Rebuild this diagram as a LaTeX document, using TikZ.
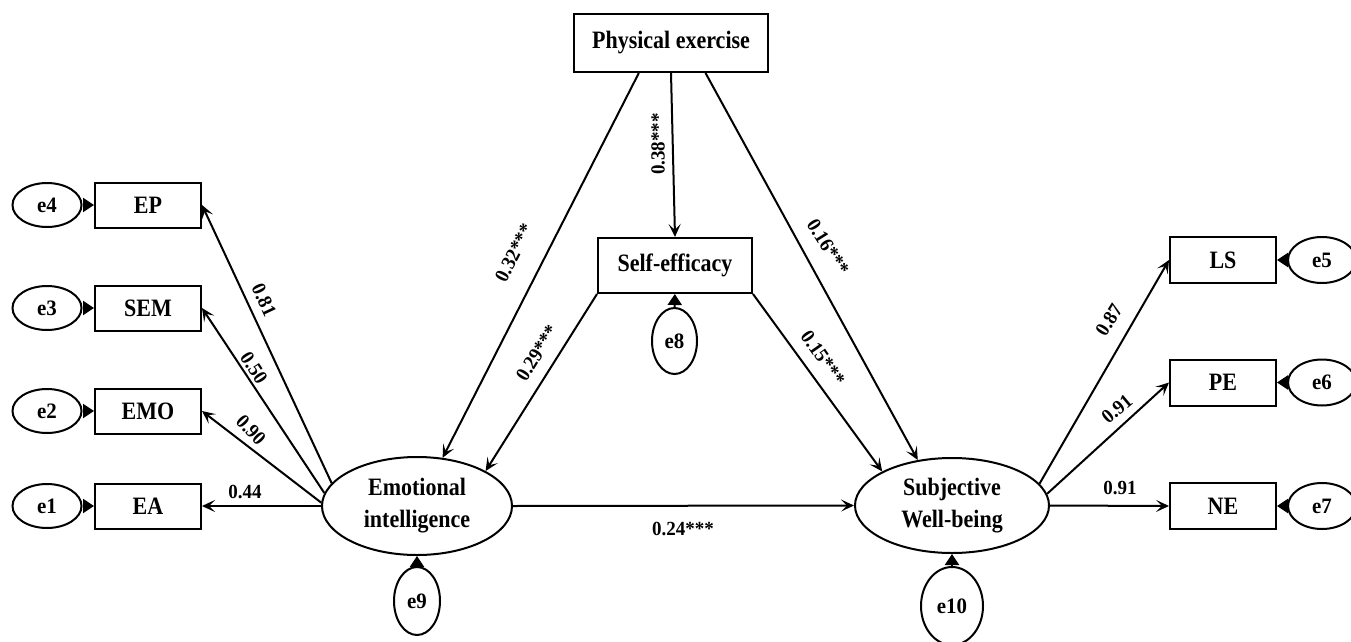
\documentclass[tikz,border=0pt]{standalone}
\usepackage{fontspec}
\setmainfont{Liberation Serif}
\newfontfamily\nodefont{Liberation Serif}[FakeStretch=0.88]
\newfontfamily\lblfont{Liberation Serif}[FakeStretch=0.95]
\usetikzlibrary{arrows.meta,shapes.geometric}
\tikzset{
  box/.style={draw,line width=2pt,rectangle,inner sep=0pt,font=\nodefont\fontsize{25}{30}\selectfont\bfseries},
  latent/.style={draw,line width=2pt,ellipse,inner sep=0pt,align=center,font=\nodefont\fontsize{25}{32}\selectfont\bfseries},
  err/.style={draw,line width=2pt,ellipse,inner sep=0pt,font=\lblfont\fontsize{22}{26}\selectfont\bfseries},
  path/.style={line width=2pt,-{Stealth[length=13pt,width=12pt,inset=6pt]}},
  errpath/.style={line width=2pt,-{Triangle[length=11pt,width=14pt]}},
  lbl/.style={inner sep=0pt,font=\lblfont\fontsize{20}{24}\selectfont\bfseries},
}
\begin{document}
\begin{tikzpicture}[x=1pt,y=-1pt]
\useasboundingbox (0,0) rectangle (1351,642);
% main nodes
\node[box,minimum width=194pt,minimum height=58pt] (PEX) at (671,43) {Physical exercise};
\node[box,minimum width=154pt,minimum height=55pt] (SE) at (675,265.5) {Self-efficacy};
\node[err,minimum width=45pt,minimum height=66pt] (e8) at (674.5,341) {e8};
\node[latent,minimum width=190pt,minimum height=98pt] (EI) at (417,506) {Emotional\\intelligence};
\node[err,minimum width=46pt,minimum height=68pt] (e9) at (417,601) {e9};
\node[latent,minimum width=194pt,minimum height=95pt] (SWB) at (952,505.5) {Subjective\\Well-being};
\node[err,minimum width=62pt,minimum height=78pt] (e10) at (952,606) {e10};
% left indicators
\foreach \n/\t/\e/\y in {EP/EP/e4/205,SEM/SEM/e3/308,EMO/EMO/e2/411,EA/EA/e1/506}{
  \node[box,minimum width=106pt,minimum height=45pt] (\n) at (148,\y) {\t};
  \node[err,minimum width=69pt,minimum height=44pt] (\e) at (47,\y) {\e};
  \draw[errpath] (\e) -- (\n);
}
% right indicators
\foreach \n/\t/\e/\y in {LS/LS/e5/260,PE/PE/e6/382.5,NE/NE/e7/506}{
  \node[box,minimum width=106pt,minimum height=46pt] (\n) at (1223,\y) {\t};
  \node[err,minimum width=68pt,minimum height=46pt] (\e) at (1322,\y) {\e};
  \draw[errpath] (\e) -- (\n);
}
% error arrows to latent
\draw[errpath] (e8) -- (SE);
\draw[errpath] (e9) -- (EI);
\draw[errpath] (e10) -- (SWB);
% structural paths
\draw[path] (PEX.223) -- (EI.62);
\draw[path] (PEX.south) -- (SE.north);
\draw[path] (PEX.319.5) -- (SWB.127);
\draw[path] (SE.south west) -- (EI.27);
\draw[path] (SE.south east) -- (SWB.154);
\draw[path] (EI.east) -- (SWB.west);
% loadings
\draw[path] (EI.165) -- (EP.east);
\draw[path] (EI.172) -- (SEM.east);
\draw[path] (EI.178) -- (EMO.east);
\draw[path] (EI.west) -- (EA.east);
\draw[path] (SWB.14.7) -- (LS.west);
\draw[path] (SWB.7.5) -- (PE.west);
\draw[path] (SWB.east) -- (NE.west);
% labels
\node[lbl,rotate=-65] (l81) at (264,300) {0.81};
\node[lbl,rotate=-57] (l50) at (254,368) {0.50};
\node[lbl,rotate=-47] (l90) at (251,430) {0.90};
\node[lbl] (l44) at (245,492) {0.44};
\node[lbl,rotate=63] (l32) at (514,253) {0.32***};
\node[lbl,rotate=90] (l38) at (658,144) {0.38***};
\node[lbl,rotate=-58] (l16) at (828,247) {0.16***};
\node[lbl,rotate=58] (l29) at (537,353) {0.29***};
\node[lbl,rotate=-55] (l15) at (823,358) {0.15***};
\node[lbl,rotate=58] (l87) at (1109,320) {0.87};
\node[lbl,rotate=40] (l91a) at (1117,409) {0.91};
\node[lbl] (l91b) at (1120,488) {0.91};
\node[lbl] (l24) at (683,529) {0.24***};
\end{tikzpicture}
\end{document}
